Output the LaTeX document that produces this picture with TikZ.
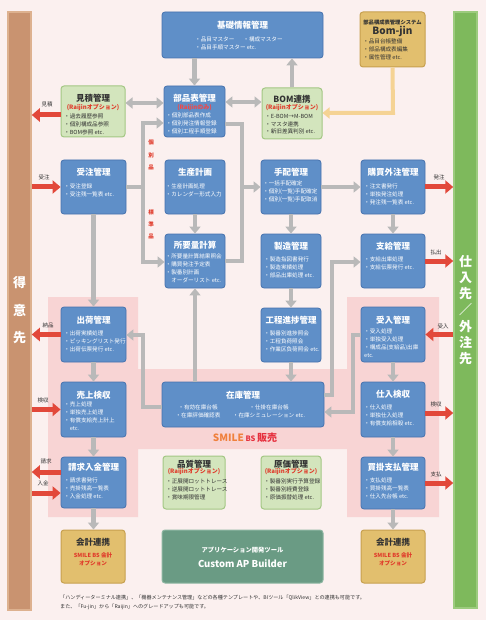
\documentclass[tikz,border=0pt]{standalone}
\usepackage{fontspec}
\setmainfont{Noto Sans CJK JP}
\usetikzlibrary{arrows.meta,fit}
\definecolor{bgc}{HTML}{FBF0EF}
\definecolor{pinkc}{HTML}{F8D4D4}
\definecolor{blueF}{HTML}{5F8FC8}
\definecolor{blueD}{HTML}{4672AE}
\definecolor{greenF}{HTML}{D3E5BD}
\definecolor{greenD}{HTML}{A3C784}
\definecolor{goldF}{HTML}{E2BF6E}
\definecolor{goldD}{HTML}{C7A04F}
\definecolor{custF}{HTML}{6A9B84}
\definecolor{custD}{HTML}{8DB6A2}
\definecolor{tanF}{HTML}{C99370}
\definecolor{tanD}{HTML}{DDB18F}
\definecolor{grnBar}{HTML}{7EB95C}
\definecolor{grnBarD}{HTML}{9CCB7E}
\definecolor{grayA}{HTML}{B9B9B9}
\definecolor{redA}{HTML}{E2483A}
\definecolor{redT}{HTML}{E03A2A}
\definecolor{redS}{HTML}{F04848}
\definecolor{orgA}{HTML}{F5D394}
\definecolor{smileO}{HTML}{F0803C}
\definecolor{smileR}{HTML}{E6303E}
\definecolor{txtK}{HTML}{333333}
\tikzset{
  bbox/.style={draw=blueD, fill=blueF, line width=0.8pt, rounded corners=3pt, inner sep=0pt},
  gbox/.style={draw=greenD, fill=greenF, line width=1pt, rounded corners=3pt, inner sep=0pt},
  obox/.style={draw=goldD, fill=goldF, line width=1pt, rounded corners=3pt, inner sep=0pt},
  cbox/.style={draw=custD, fill=custF, line width=1pt, rounded corners=3pt, inner sep=0pt},
  ttlw/.style={font=\bfseries\fontsize{8.5}{9}\selectfont, text=white, inner sep=0pt},
  ttlk/.style={font=\bfseries\fontsize{8.5}{9}\selectfont, text=txtK, inner sep=0pt},
  subr/.style={font=\bfseries\fontsize{6}{7}\selectfont, text=redT, inner sep=0pt},
  subb/.style={font=\bfseries\fontsize{6}{7}\selectfont, text=redS, inner sep=0pt},
  itw/.style={font=\fontsize{5.6}{7.7}\selectfont, text=white, align=left, anchor=north west, inner sep=0pt},
  itk/.style={font=\fontsize{5.6}{7.7}\selectfont, text=txtK, align=left, anchor=north west, inner sep=0pt},
  garr/.style={draw=grayA, line width=4.5pt, -{Triangle[width=11pt,length=7pt]}},
  garrr/.style={draw=grayA, line width=4.5pt, {Triangle[width=11pt,length=7pt]}-{Triangle[width=11pt,length=7pt]}},
  gline/.style={draw=grayA, line width=4.5pt},
  rarr/.style={draw=redA, line width=5pt, -{Triangle[width=13pt,length=8pt]}},
  lbl/.style={font=\fontsize{5.5}{6}\selectfont, text=txtK, inner sep=0pt},
  vlbl/.style={font=\bfseries\fontsize{5.5}{12.3}\selectfont, text=redT, align=center, inner sep=0pt},
  bartxt/.style={font=\bfseries\fontsize{13}{27.5}\selectfont, text=white, align=center, inner sep=0pt},
  bartxtb/.style={font=\bfseries\fontsize{13}{16.3}\selectfont, text=white, align=center, inner sep=0pt},
}
\begin{document}
\begin{tikzpicture}[x=1pt,y=-1pt]
\useasboundingbox (0,0) rectangle (486,620);
\fill[bgc] (0,0) rectangle (486,620);
% SMILE BS area
\fill[pinkc] (48,297) -- (138,297) -- (138,369) -- (347,369) -- (347,297) -- (439,297) -- (439,517) -- (347,517) -- (347,449) -- (138,449) -- (138,517) -- (48,517) -- cycle;
\node[font=\bfseries\fontsize{10}{11}\selectfont, inner sep=0pt] (smile) at (245,438) {\textcolor{smileO}{SMILE}\,\textcolor{smileR}{\fontsize{7.5}{8}\selectfont BS}\,\textcolor{smileR}{販売}};

% side bars
\node[fit={(8,12)(31,610)}, inner sep=0pt, fill=tanF, draw=tanD, line width=1.5pt] (tokui) {};
\node[bartxt] (tokuiT) at (19.5,310.5) {得\\意\\先};
\node[fit={(454,12)(477,608)}, inner sep=0pt, fill=grnBar, draw=grnBarD, line width=1.5pt] (saki) {};
\node[bartxtb] (sakiT) at (465.5,310) {仕\\入\\先\\／\\外\\注\\先};

% boxes
\node[bbox, fit={(162,12)(323,58)}] (kiso) {};
\node[ttlw] (kisoT) at (242.5,25) {基礎情報管理};
\node[itw] (kisoI) at (195,37) {・品目マスター\hspace{9pt}・構成マスター\\・品目手順マスター etc.};

\node[obox, fit={(360,12)(425,67)}] (bomjin) {};
\node[font=\bfseries\fontsize{5.3}{6}\selectfont, text=txtK, inner sep=0pt] (bomjinH) at (392.5,22) {部品構成表管理システム};
\node[font=\bfseries\fontsize{10}{11}\selectfont, text=txtK, inner sep=0pt] (bomjinT) at (392.5,31.5) {Bom-jin};
\node[itk] (bomjinI) at (363,39) {・品目台帳整備\\・部品構成表編集\\・属性管理 etc.};

\node[gbox, fit={(61,86)(125,137)}] (mitsu) {};
\node[ttlk] (mitsuT) at (93,98) {見積管理};
\node[subr] (mitsuS) at (93,108) {(Raijinオプション)};
\node[itk] (mitsuI) at (64,114) {・過去履歴参照\\・個別構成品参照\\・BOM参照 etc.};

\node[bbox, fit={(164,86)(225,137)}] (buhin) {};
\node[ttlw] (buhinT) at (194.5,98) {部品表管理};
\node[subb] (buhinS) at (194.5,108) {(Raijinのみ)};
\node[itw] (buhinI) at (166,113) {・個別部品表作成\\・個別発注情報登録\\・個別工程手順登録};

\node[gbox, fit={(262,88)(322,139)}] (bomr) {};
\node[ttlk] (bomrT) at (292,99) {BOM連携};
\node[subr] (bomrS) at (292,108) {(Raijinオプション)};
\node[itk] (bomrI) at (265,114) {・E-BOM→M-BOM\\・マスタ連携\\・新旧差異判別 etc.};

\node[bbox, fit={(61,160)(126,214)}] (juchu) {};
\node[ttlw] (juchuT) at (93.5,172) {受注管理};
\node[itw] (juchuI) at (64,184) {・受注登録\\・受注残一覧表 etc.};

\node[bbox, fit={(165,160)(225,214)}] (seisan) {};
\node[ttlw] (seisanT) at (195,172) {生産計画};
\node[itw] (seisanI) at (165.5,184) {・生産計画処理\\・カレンダー形式入力};

\node[bbox, fit={(261,160)(321,214)}] (tehai) {};
\node[ttlw] (tehaiT) at (291,172) {手配管理};
\node[itw] (tehaiI) at (263,181) {・一括手配確定\\・個別(一覧)手配確定\\・個別(一覧)手配取消};

\node[bbox, fit={(361,160)(425,214)}] (kobai) {};
\node[ttlw] (kobaiT) at (393,172) {購買外注管理};
\node[itw] (kobaiI) at (364,184) {・注文書発行\\・単独発注処理\\・発注残一覧表 etc.};

\node[bbox, fit={(165,234)(225,288)}] (shoyo) {};
\node[ttlw] (shoyoT) at (195,245) {所要量計算};
\node[itw] (shoyoI) at (165.5,254) {・所要量計算結果照会\\・購買発注予定表\\・製番別計画\\\hspace*{5.6pt}オーダーリスト etc.};

\node[bbox, fit={(261,234)(321,288)}] (seizo) {};
\node[ttlw] (seizoT) at (291,246) {製造管理};
\node[itw] (seizoI) at (264,257) {・製造指図書発行\\・製造実績処理\\・部品出庫処理 etc.};

\node[bbox, fit={(361,234)(425,288)}] (shikyu) {};
\node[ttlw] (shikyuT) at (393,246) {支給管理};
\node[itw] (shikyuI) at (364,257) {・支給出庫処理\\・支給伝票発行 etc.};

\node[bbox, fit={(61,307)(126,362)}] (shukka) {};
\node[ttlw] (shukkaT) at (93.5,320) {出荷管理};
\node[itw] (shukkaI) at (64,331) {・出荷実績処理\\・ピッキングリスト発行\\・出荷伝票発行 etc.};

\node[bbox, fit={(261,308)(321,362)}] (koutei) {};
\node[ttlw] (kouteiT) at (291,320) {工程進捗管理};
\node[itw] (kouteiI) at (264,331) {・製番別進捗照会\\・工程負荷照会\\・作業区負荷照会 etc.};

\node[bbox, fit={(361,307)(425,362)}] (ukeire) {};
\node[ttlw] (ukeireT) at (393,320) {受入管理};
\node[itw] (ukeireI) at (364,329) {・受入処理\\・単独受入処理\\・構成品(支給品)出庫\\\hspace*{0pt}etc.};

\node[bbox, fit={(61,382)(126,437)}] (uriage) {};
\node[ttlw] (uriageT) at (93.5,395) {売上検収};
\node[itw] (uriageI) at (64,402) {・売上処理\\・単独売上処理\\・有償支給売上計上\\\hspace*{5.6pt}etc.};

\node[bbox, fit={(162,382)(324,427)}] (zaiko) {};
\node[ttlw] (zaikoT) at (243,395) {在庫管理};
\node[itw, anchor=north, align=center] (zaikoI1) at (198,405) {・有効在庫台帳\\・在庫評価確認表};
\node[itw, anchor=north, align=center] (zaikoI2) at (269,405) {・仕掛在庫台帳\\・在庫シミュレーション etc.};

\node[bbox, fit={(361,382)(425,437)}] (shiire) {};
\node[ttlw] (shiireT) at (393,394) {仕入検収};
\node[itw] (shiireI) at (364,405) {・仕入処理\\・単独仕入処理\\・有償支給相殺 etc.};

\node[bbox, fit={(61,457)(126,508)}] (seikyu) {};
\node[ttlw] (seikyuT) at (93.5,467) {請求入金管理};
\node[itw] (seikyuI) at (64,478) {・請求書発行\\・売掛残高一覧表\\・入金処理 etc.};

\node[gbox, fit={(163,456)(225,509)}] (hin) {};
\node[ttlk] (hinT) at (194,464) {品質管理};
\node[subr] (hinS) at (194,472) {(Raijinオプション)};
\node[itk] (hinI) at (166,479) {・正展開ロットトレース\\・逆展開ロットトレース\\・賞味期限管理};

\node[gbox, fit={(261,456)(321,509)}] (genka) {};
\node[ttlk] (genkaT) at (291,464) {原価管理};
\node[subr] (genkaS) at (291,472) {(Raijinオプション)};
\node[itk] (genkaI) at (264,479) {・製番別実行予算登録\\・製番別経費登録\\・原価振替処理 etc.};

\node[bbox, fit={(361,457)(425,509)}] (kaikake) {};
\node[ttlw] (kaikakeT) at (393,467) {買掛支払管理};
\node[itw] (kaikakeI) at (364,478) {・支払処理\\・買掛残高一覧表\\・仕入先台帳 etc.};

\node[obox, fit={(61,530)(125,583)}] (kaikeiL) {};
\node[ttlk] (kaikeiLT) at (93,542) {会計連携};
\node[subr, align=center, font=\bfseries\fontsize{5.6}{8}\selectfont] (kaikeiLS) at (93,559) {SMILE BS 会計\\オプション};

\node[obox, fit={(361,530)(425,583)}] (kaikeiR) {};
\node[ttlk] (kaikeiRT) at (393,542) {会計連携};
\node[subr, align=center, font=\bfseries\fontsize{5.6}{8}\selectfont] (kaikeiRS) at (393,559) {SMILE BS 会計\\オプション};

\node[cbox, fit={(162,530)(323,583)}] (cust) {};
\node[font=\bfseries\fontsize{6.3}{7}\selectfont, text=white, inner sep=0pt] (custH) at (242.5,550) {アプリケーション開発ツール};
\node[font=\bfseries\fontsize{9.5}{10}\selectfont, text=white, inner sep=0pt] (custT) at (242.5,564) {Custom AP Builder};

% footer
\node[font=\fontsize{5.1}{9}\selectfont, text=txtK, align=left, anchor=north west, inner sep=0pt] (foot) at (60,595) {「ハンディーターミナル連携」、「機器メンテナンス管理」などの各種テンプレートや、BIツール「QlikView」との連携も可能です。\\また、「Fu-jin」から「Raijin」へのグレードアップも可能です。};

% coordinates for connector turns
\coordinate (kb) at (143,187);
\coordinate (kbt) at (143,123);
\coordinate (kbb) at (143,262);
\coordinate (pt) at (242,124);
\coordinate (pm) at (242,187);
\coordinate (pb) at (242,261);
\coordinate (lz1) at (143,407);
\coordinate (lz2) at (143,335);
\coordinate (rz1) at (332,395);
\coordinate (rz2) at (332,262);
\coordinate (ru1) at (353,335);
\coordinate (ru2) at (353,412);
\coordinate (bj) at (393,113);
\coordinate (h103) at (0,103);
\coordinate (h102) at (0,102);

% gray connectors
\draw[garr] (kiso.south -| buhin.north) -- (buhin.north);
\draw[garr] (bomr.north) -- (bomr.north |- kiso.south);
\draw[garrr] (buhin.east |- h102) -- (bomr.west |- h102);
\draw[garrr] (mitsu.east |- h103) -- (buhin.west |- h103);
\draw[garr] (juchu.east |- kb) -- (kb) -- (kbt) -- (buhin.west |- kbt);
\draw[garr] (kb) -- (kbb) -- (shoyo.west |- kbb);
\draw[garr] (buhin.east |- pt) -- (pt) -- (pm) -- (tehai.west |- pm);
\draw[gline] (shoyo.east |- pb) -- (pb) -- (pm);
\draw[garr] (seisan.south) -- (shoyo.north);
\draw[garr] (tehai.south) -- (seizo.north);
\draw[garr] (seizo.south) -- (koutei.north);
\draw[garr] (koutei.south) -- (koutei.south |- zaiko.north);
\draw[garr] (zaiko.north -| shoyo.south) -- (shoyo.south);
\draw[garr] (tehai.east) -- (kobai.west);
\draw[garr] (kobai.south) -- (shikyu.north);
\draw[garr] (juchu.south) -- (shukka.north);
\draw[garr] (shukka.south) -- (uriage.north);
\draw[garr] (uriage.south) -- (seikyu.north);
\draw[garr] (seikyu.south) -- (kaikeiL.north -| seikyu.south);
\draw[garr] (ukeire.south) -- (shiire.north);
\draw[garr] (shiire.south) -- (kaikake.north);
\draw[garr] (kaikake.south) -- (kaikeiR.north);
\draw[garr] (zaiko.west |- lz1) -- (lz1) -- (lz2) -- (shukka.east |- lz2);
\draw[garr] (zaiko.east |- rz1) -- (rz1) -- (rz2) -- (shikyu.west |- rz2);
\draw[garr] (ukeire.west |- ru1) -- (ru1) -- (ru2) -- (zaiko.east |- ru2);
\draw[draw=orgA, line width=4pt, -{Triangle[width=11pt,length=7pt]}] (bomjin.south) -- (bj) -- (bomr.east |- bj);

% vertical labels
\node[vlbl] (kobetsu) at (151,155) {個\\別\\品};
\node[vlbl] (hyojun) at (151,224.5) {標\\準\\品};

% red arrows
\coordinate (m1) at ([yshift=-3.5pt]mitsu.west);
\coordinate (s1) at ([yshift=10.5pt]seikyu.west);
\coordinate (s2) at ([yshift=-10.5pt]seikyu.west);
\coordinate (k1) at ([yshift=-3.5pt]shiire.east);
\draw[rarr] (m1) -- (tokui.east |- m1);
\draw[rarr] (tokui.east |- juchu.west) -- (juchu.west);
\draw[rarr] (shukka.west) -- (tokui.east |- shukka.west);
\draw[rarr] (tokui.east |- uriage.west) -- (uriage.west);
\draw[rarr] (s1) -- (tokui.east |- s1);
\draw[rarr] (tokui.east |- s2) -- (s2);
\draw[rarr] (kobai.east) -- (saki.west |- kobai.east);
\draw[rarr] (shikyu.east) -- (saki.west |- shikyu.east);
\draw[rarr] (saki.west |- ukeire.east) -- (ukeire.east);
\draw[rarr] (k1) -- (saki.west |- k1);
\draw[rarr] (kaikake.east) -- (saki.west |- kaikake.east);

\node[lbl] (lMitsu) at (47,104) {見積};
\node[lbl] (lJuchu) at (44,177) {受注};
\node[lbl] (lNohin) at (48,325) {納品};
\node[lbl] (lKen1) at (43,400) {検収};
\node[lbl] (lSeikyu) at (46,461) {請求};
\node[lbl] (lNyukin) at (43,483) {入金};
\node[lbl] (lHatchu) at (439,177) {発注};
\node[lbl] (lHaraidashi) at (436,252) {払出};
\node[lbl] (lUkeire) at (443,326) {受入};
\node[lbl] (lKen2) at (436,404) {検収};
\node[lbl] (lShiharai) at (436,474) {支払};
\end{tikzpicture}
\end{document}
